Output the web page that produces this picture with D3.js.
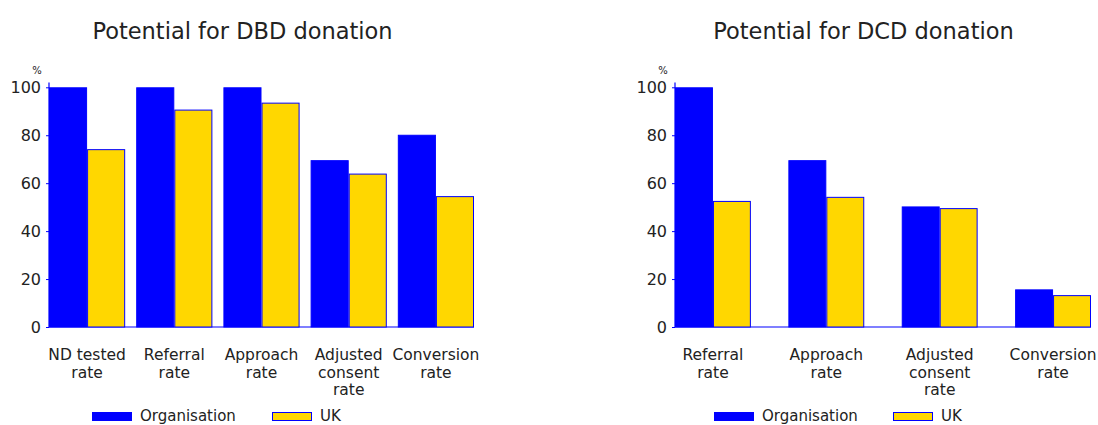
<!DOCTYPE html>
<html>
<head>
<meta charset="utf-8">
<script src="https://cdn.jsdelivr.net/npm/d3@7"></script>
<style>
  html, body { margin: 0; padding: 0; background: #fff; }
  svg { display: block; font-family: "DejaVu Sans", sans-serif; }
</style>
</head>
<body>
<svg id="chart" width="1098" height="425"></svg>
<script>
// Donation potential: organisation vs UK rates
const dbdCategories = ["ND tested\nrate", "Referral\nrate", "Approach\nrate", "Adjusted\nconsent\nrate", "Conversion\nrate"];
const dbdOrganisation = [100, 100, 100, 69.6, 80.2];
const dbdUK = [74.2, 90.7, 93.6, 64.0, 54.6];

const dcdCategories = ["Referral\nrate", "Approach\nrate", "Adjusted\nconsent\nrate", "Conversion\nrate"];
const dcdOrganisation = [100, 69.6, 50.3, 15.7];
const dcdUK = [52.6, 54.3, 49.6, 13.3];

const seriesNames = ["Organisation", "UK"];
const yTicks = [0, 20, 40, 60, 80, 100];

const BLUE = "#0000ff";
const GOLD = "#ffd700";
const INK = "#222";

const svg = d3.select("#chart");

function drawPanel(opts) {
  const g = svg.append("g");
  const y = d3.scaleLinear().domain([0, 100]).range([327, 87.3]);
  const x = d3.scaleBand()
    .domain(opts.categories)
    .range([opts.left, opts.right])
    .paddingInner(opts.padInner)
    .paddingOuter(0)
    .align(0);
  const sub = d3.scaleBand().domain(seriesNames).range([0, x.bandwidth()]);

  // title
  g.append("text")
    .attr("x", opts.titleX).attr("y", 39)
    .attr("text-anchor", "middle")
    .attr("font-size", 22.5)
    .attr("fill", INK)
    .text(opts.title);

  // baseline
  g.append("line")
    .attr("x1", opts.left).attr("x2", opts.right)
    .attr("y1", y(0)).attr("y2", y(0))
    .attr("stroke", BLUE).attr("stroke-width", 1.2);

  const rows = opts.categories.map((c, i) => ({
    cat: c, values: [opts.org[i], opts.uk[i]]
  }));

  const grp = g.selectAll("g.grp").data(rows).join("g")
    .attr("class", "grp")
    .attr("transform", d => `translate(${x(d.cat)},0)`);

  grp.selectAll("rect")
    .data(d => d.values.map((v, j) => ({ key: seriesNames[j], v })))
    .join("rect")
    .attr("x", d => sub(d.key) + 0.5)
    .attr("width", sub.bandwidth() - 1)
    .attr("y", d => y(d.v) + 0.5)
    .attr("height", d => y(0) - y(d.v) - 0.5)
    .attr("fill", d => d.key === "UK" ? GOLD : BLUE)
    .attr("stroke", BLUE)
    .attr("stroke-width", 1);

  // category labels
  grp.append("text")
    .attr("x", x.bandwidth() / 2)
    .attr("y", 360)
    .attr("text-anchor", "middle")
    .attr("font-size", 15.5)
    .attr("fill", INK)
    .selectAll("tspan")
    .data(d => d.cat.split("\n"))
    .join("tspan")
    .attr("x", x.bandwidth() / 2)
    .attr("dy", (d, i) => i === 0 ? 0 : 17.7)
    .text(d => d);

  // y axis
  const axis = d3.axisLeft(y).tickValues(yTicks).tickSize(3).tickPadding(5).tickSizeOuter(0);
  const ax = g.append("g")
    .attr("transform", `translate(${opts.left},0)`)
    .call(axis);
  ax.select(".domain").remove();
  ax.selectAll(".tick line").attr("stroke", BLUE);
  ax.selectAll(".tick text")
    .attr("font-size", 16)
    .attr("font-family", "DejaVu Sans, sans-serif")
    .attr("fill", INK);
  ax.append("line")
    .attr("x1", 0).attr("x2", 0)
    .attr("y1", y(102)).attr("y2", y(0))
    .attr("stroke", BLUE).attr("stroke-width", 1.2);

  g.append("text")
    .attr("x", opts.left - 12).attr("y", 74)
    .attr("text-anchor", "middle")
    .attr("font-size", 10)
    .attr("fill", INK)
    .text("%");

  // legend
  const leg = g.append("g").attr("transform", `translate(${opts.legendX},0)`);
  const legItems = leg.selectAll("g").data(seriesNames).join("g")
    .attr("transform", (d, i) => `translate(${i * opts.legendStep},0)`);
  legItems.append("rect")
    .attr("x", 0.5).attr("y", 412.5)
    .attr("width", 39).attr("height", 8)
    .attr("fill", d => d === "UK" ? GOLD : BLUE)
    .attr("stroke", BLUE).attr("stroke-width", 1);
  legItems.append("text")
    .attr("x", 48).attr("y", 421)
    .attr("font-size", 15)
    .attr("fill", INK)
    .text(d => d);
}

drawPanel({
  title: "Potential for DBD donation", titleX: 242.5,
  categories: dbdCategories, org: dbdOrganisation, uk: dbdUK,
  left: 49, right: 474, padInner: 11 / 87,
  legendX: 92, legendStep: 180
});

drawPanel({
  title: "Potential for DCD donation", titleX: 863.5,
  categories: dcdCategories, org: dcdOrganisation, uk: dcdUK,
  left: 675, right: 1091, padInner: 37.5 / 113.4,
  legendX: 714, legendStep: 179
});
</script>
</body>
</html>
